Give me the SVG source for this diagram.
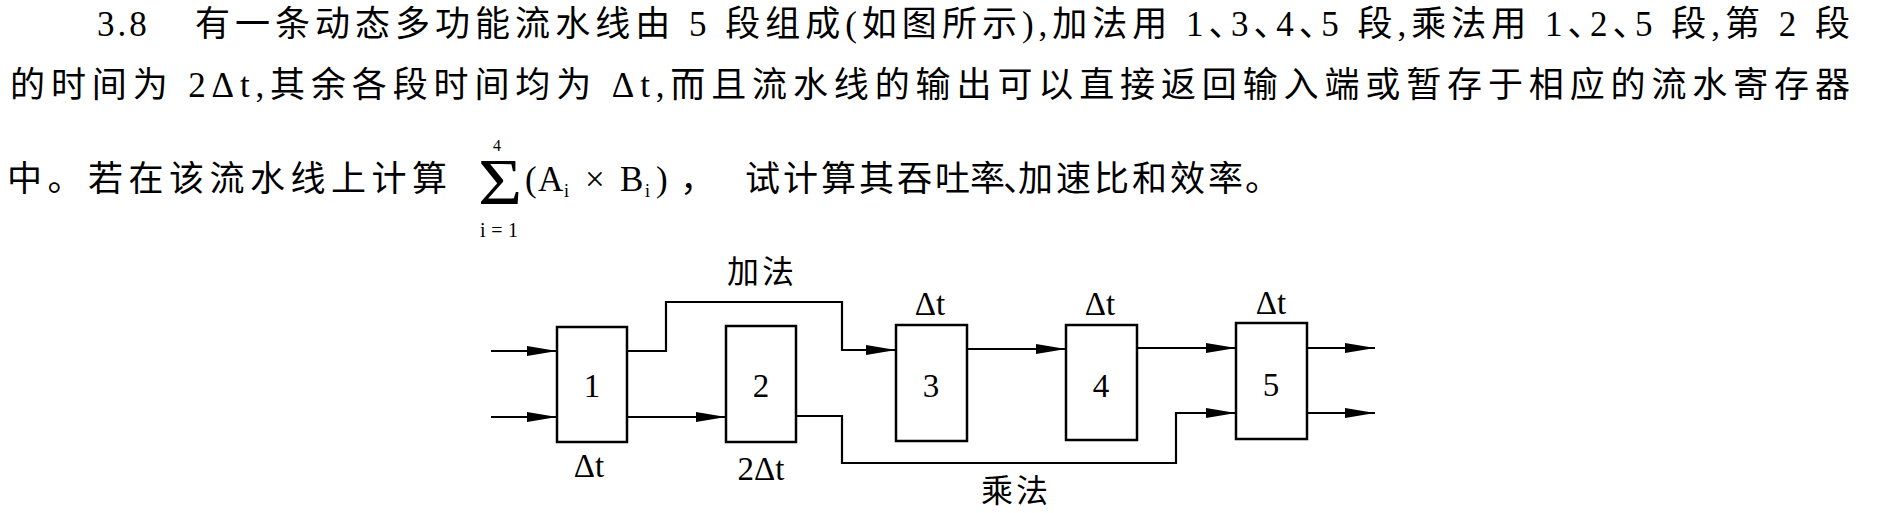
<svg xmlns="http://www.w3.org/2000/svg" width="1888" height="513" viewBox="0 0 1888 513">
<defs>
<marker id="ah" markerUnits="userSpaceOnUse" markerWidth="30" markerHeight="11" refX="30" refY="5.5" orient="auto"><path d="M0,0.5 L30,5.5 L0,10.5 z" fill="#000"/></marker>
</defs>
<style>
.t{font-family:"Liberation Serif","Noto Sans CJK SC",serif;fill:#000}
.h{font-size:35px;font-feature-settings:"halt"}
.p{font-size:35px}
.box{fill:#fff;stroke:#000;stroke-width:2.5}
.c{fill:none;stroke:#000;stroke-width:2.2;marker-end:url(#ah)}
.n{font-size:33px;text-anchor:middle}
.d{font-size:33px;text-anchor:middle}
.lbl{font-family:"Noto Sans CJK SC",sans-serif;font-size:32px;text-anchor:middle;fill:#000;letter-spacing:3px}
</style>
<rect width="1888" height="513" fill="#fff"/>

<g id="question">
<text class="t h" x="97" y="36" letter-spacing="3">3.8</text>
<text class="t h" x="195" y="36" textLength="1655" lengthAdjust="spacing">有一条动态多功能流水线由 5 段组成(如图所示),加法用 1、3、4、5 段,乘法用 1、2、5 段,第 2 段</text>
<text class="t h" x="10" y="97" textLength="1840" lengthAdjust="spacing">的时间为 2Δt,其余各段时间均为 Δt,而且流水线的输出可以直接返回输入端或暂存于相应的流水寄存器</text>
<text class="t p" x="7" y="191" textLength="440" lengthAdjust="spacing">中。若在该流水线上计算</text>
<text class="t" transform="translate(500,204) scale(1.15,1)" font-size="66" text-anchor="middle">Σ</text>
<text class="t" x="497" y="151" font-size="16" text-anchor="middle">4</text>
<text class="t" x="499" y="237" font-size="20" text-anchor="middle" textLength="38" lengthAdjust="spacing">i=1</text>
<text class="t" font-size="35" y="191"><tspan x="525">(</tspan><tspan x="538">A</tspan><tspan x="564" y="197" font-size="18">i</tspan><tspan x="585" y="191">×</tspan><tspan x="620">B</tspan><tspan x="645" y="197" font-size="18">i</tspan><tspan x="656" y="191">)</tspan></text>
<text class="t p" x="680" y="191">，</text>
<text class="t p" y="191" x="745 783 821 859 897 935 970 1003 1018 1056 1094 1132 1170 1208 1245">试计算其吞吐率、加速比和效率。</text>
</g>

<g id="connectors">
<path class="c" d="M491,351 H557"/>
<path class="c" d="M491,417 H557"/>
<path class="c" d="M627,351 H666 V302 H842 V350 H896"/>
<path class="c" d="M627,417 H726"/>
<path class="c" d="M796,416 H842 V463 H1176 V413 H1236"/>
<path class="c" d="M967,349 H1066"/>
<path class="c" d="M1137,348 H1236"/>
<path class="c" d="M1307,348 H1375"/>
<path class="c" d="M1307,413 H1375"/>
<text class="lbl" x="762" y="283">加法</text>
<text class="lbl" x="1016" y="502">乘法</text>
</g>

<g id="stage1">
<rect class="box" x="557" y="327" width="70" height="115"/>
<text class="t n" x="592" y="397">1</text>
<text class="t d" x="589" y="477">Δt</text>
</g>
<g id="stage2">
<rect class="box" x="726" y="326" width="70" height="116"/>
<text class="t n" x="761" y="397">2</text>
<text class="t d" x="761" y="480">2Δt</text>
</g>
<g id="stage3">
<rect class="box" x="896" y="325" width="71" height="116"/>
<text class="t n" x="931" y="397">3</text>
<text class="t d" x="930" y="315">Δt</text>
</g>
<g id="stage4">
<rect class="box" x="1066" y="325" width="71" height="115"/>
<text class="t n" x="1101" y="397">4</text>
<text class="t d" x="1100" y="315">Δt</text>
</g>
<g id="stage5">
<rect class="box" x="1236" y="323" width="71" height="116"/>
<text class="t n" x="1271" y="396">5</text>
<text class="t d" x="1271" y="314">Δt</text>
</g>
</svg>
